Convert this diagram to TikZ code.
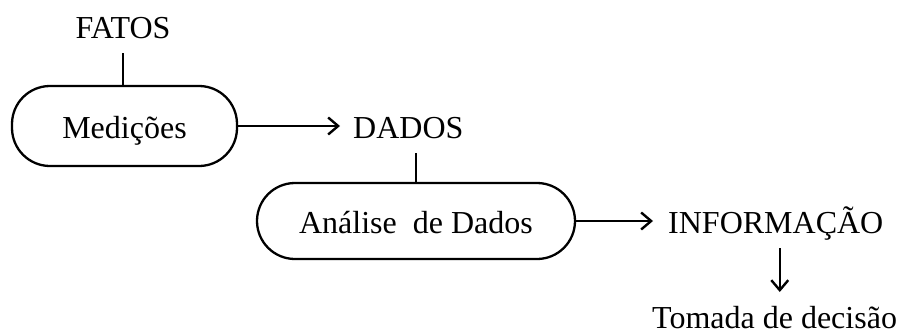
\documentclass[tikz,border=0pt]{standalone}
\usepackage{fontspec}
\setmainfont{Liberation Serif}
\usetikzlibrary{arrows.meta}
\begin{document}
\begin{tikzpicture}[x=1pt,y=1pt,
  txt/.style={inner sep=0pt, font=\fontsize{32}{38}\selectfont},
  pill/.style={draw, line width=2.3pt, rounded corners=38pt, inner sep=0pt,
    text height=24pt, text depth=0pt, font=\fontsize{32}{38}\selectfont},
  conn/.style={line width=2.4pt},
  arr/.style={line width=2.4pt, -{Straight Barb[length=10pt,width=17pt,line width=2.4pt]}}]
\useasboundingbox (0,0) rectangle (910,-335);
\node[txt, anchor=base] (fatos) at (123,-38) {FATOS};
\node[pill, minimum width=225pt, minimum height=80pt] (med) at (124.5,-126) {Medições};
\node[txt, anchor=base west] (dados) at (353,-138) {DADOS};
\node[pill, minimum width=318pt, minimum height=76pt] (ana) at (416,-221) {Análise\ \ de Dados};
\node[txt, anchor=base west] (info) at (668,-233) {INFORMAÇÃO};
\node[txt, anchor=base west] (tom) at (652,-328) {Tomada de decisão};
\draw[conn] ([yshift=-15pt]fatos.base) -- (fatos.base |- med.north);
\draw[arr, shorten >=13pt] (med.east) -- (med.east -| dados.west);
\draw[conn] (ana.north) -- ([yshift=-15pt]ana.north |- dados.base);
\draw[arr, shorten >=15pt] (ana.east) -- (ana.east -| info.west);
\draw[arr] ([xshift=4pt,yshift=-15pt]info.base) -- ([xshift=4pt,yshift=-59pt]info.base);
\end{tikzpicture}
\end{document}
